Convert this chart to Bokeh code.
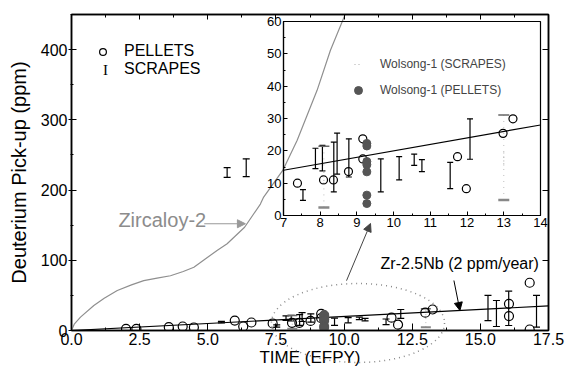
import numpy as np
from bokeh.plotting import figure
from bokeh.models import (ColumnDataSource, Range1d, LinearAxis, SingleIntervalTicker,
                          NumeralTickFormatter, CustomJSTickFormatter, Whisker, TeeHead,
                          Arrow, NormalHead, Label, Legend, LegendItem)
from bokeh.embed import file_html
from bokeh.resources import INLINE

FONT = "Liberation Sans"

# ---------------- data ----------------
pellet_x = [2.0, 2.38, 3.57, 4.08, 4.49, 5.99, 6.3, 6.6, 7.38, 8.09, 8.36, 8.77, 9.16, 9.16,
            11.74, 11.98, 12.98, 13.25, 16.05, 16.05, 16.81, 16.81]
pellet_y = [2.4, 2.4, 4.7, 5.7, 4.3, 14.2, 5.7, 11.4, 10.0, 11.0, 11.0, 13.6, 23.7, 17.5,
            18.2, 8.3, 25.4, 29.9, 38.0, 20.5, 68.0, 1.4]

scrape_x = [5.5, 5.71, 6.41, 7.53, 7.87, 8.06, 8.37, 8.46, 8.78, 9.65, 10.15, 10.56, 10.77,
            11.54, 12.08, 15.28, 15.59, 16.04, 17.06]
scrape_lo = [11.0, 218.0, 219.0, 4.7, 14.5, 13.8, 7.3, 12.8, 11.9, 7.3, 11.0, 15.5, 13.6,
             8.3, 17.4, 14.2, 5.7, 7.1, 4.8]
scrape_hi = [13.0, 232.0, 244.5, 8.0, 20.8, 21.7, 22.7, 25.5, 23.7, 17.5, 18.2, 19.0, 17.3,
             16.4, 29.9, 49.9, 42.7, 56.0, 49.9]

wolsong_pellet_x = [9.27, 9.27, 9.27, 9.27, 9.27, 9.27, 9.27]
wolsong_pellet_y = [22.3, 21.5, 16.7, 15.7, 13.5, 6.3, 3.7]

wolsong_scrape_x = [8.1, 13.0]
wolsong_scrape_lo = [2.5, 4.8]
wolsong_scrape_hi = [21.4, 31.1]

zircaloy_x = [0, 0.1, 0.33, 0.82, 1.2, 1.68, 2.2, 2.65, 3.14, 3.63, 4.1, 4.49, 4.73, 5.34,
              5.71, 6.35, 6.93, 7.05, 7.75, 8.28, 9.01, 9.5, 10.05]
zircaloy_y = [0, 9, 19, 35.6, 46, 57, 65, 71, 74.5, 78, 84, 90, 96.8, 114,
              123.5, 147, 180, 190, 228, 271, 342, 399, 451]

fit_slope = 2.0          # ppm / EFPY
main_fit_x = [0.0, 17.5]
inset_fit_x = [7.0, 14.0]

# dotted ellipse marking the zoomed region (main data units)
ell_cx, ell_cy, ell_w, ell_h = 10.51, 10.7, 6.35, 112.5

# ---------------- layout constants ----------------
W, H = 568, 370
ML, MR, MT, MB = 71, 20, 14, 40
XR = (0.0, 17.5)
YR = (0.0, 450.0)
INSET_LEFT, INSET_TOP, INSET_W, INSET_H = 258, 8, 292, 229
IB_LEFT, IB_RIGHT, IB_TOP, IB_BOTTOM = 25, 10, 13, 22

# ---------------- main figure ----------------
p = figure(width=W, height=H, x_range=Range1d(*XR), y_range=Range1d(*YR),
           output_backend="svg", toolbar_location=None,
           min_border_left=ML, min_border_right=MR, min_border_top=MT, min_border_bottom=MB,
           x_axis_label="TIME (EFPY)", y_axis_label="Deuterium Pick-up (ppm)")
p.grid.visible = False
p.outline_line_color = "black"
p.outline_line_width = 1.5
p.background_fill_color = "white"
p.border_fill_color = "white"

xa = p.xaxis[0]
xa.ticker = SingleIntervalTicker(interval=2.5, num_minor_ticks=2)
xa.formatter = NumeralTickFormatter(format="0.0")
ya = p.yaxis[0]
ya.ticker = SingleIntervalTicker(interval=100, num_minor_ticks=2)

for ax in (xa, ya):
    ax.axis_line_color = "black"
    ax.axis_line_width = 1.5
    ax.major_tick_line_color = "black"
    ax.minor_tick_line_color = "black"
    ax.major_label_text_font = FONT
    ax.major_label_text_font_size = "16px"
    ax.major_label_text_color = "black"
    ax.axis_label_text_font = FONT
    ax.axis_label_text_font_style = "normal"
    ax.axis_label_text_color = "black"

xa.major_tick_in = 7
xa.major_tick_out = 0
xa.minor_tick_in = 3
xa.minor_tick_out = 0
xa.major_label_standoff = 2
xa.axis_label_text_font_size = "17px"
xa.axis_label_standoff = 0

ya.major_tick_in = 5
ya.major_tick_out = 3
ya.minor_tick_in = 2
ya.minor_tick_out = 1
ya.major_label_standoff = 1
ya.axis_label_text_font_size = "20px"
ya.axis_label_standoff = 8

blank = CustomJSTickFormatter(code="return ''")
top_ax = LinearAxis(ticker=SingleIntervalTicker(interval=2.5, num_minor_ticks=2),
                    formatter=blank, major_tick_in=5, major_tick_out=0,
                    minor_tick_in=3, minor_tick_out=0, major_label_text_font_size="0px",
                    axis_line_color="black", axis_line_width=1.5)
right_ax = LinearAxis(ticker=SingleIntervalTicker(interval=100, num_minor_ticks=1),
                      formatter=blank, major_tick_in=6, major_tick_out=0,
                      minor_tick_in=0, minor_tick_out=0, major_label_text_font_size="0px",
                      axis_line_color="black", axis_line_width=1.5)
p.add_layout(top_ax, "above")
p.add_layout(right_ax, "right")

# Zircaloy-2 curve
p.line(zircaloy_x, zircaloy_y, line_color="#8f8f8f", line_width=1.2)
# Zr-2.5Nb fit line
p.line(main_fit_x, [fit_slope * v for v in main_fit_x], line_color="black", line_width=1.2)

# scrapes (error bars)
scr_src = ColumnDataSource(dict(x=scrape_x, lo=scrape_lo, hi=scrape_hi))
p.add_layout(Whisker(source=scr_src, base="x", lower="lo", upper="hi", dimension="height",
                     line_color="black", line_width=1.2,
                     upper_head=TeeHead(size=7, line_color="black", line_width=1.2),
                     lower_head=TeeHead(size=7, line_color="black", line_width=1.2)))
ws_src = ColumnDataSource(dict(x=wolsong_scrape_x, lo=wolsong_scrape_lo, hi=wolsong_scrape_hi))
p.add_layout(Whisker(source=ws_src, base="x", lower="lo", upper="hi", dimension="height",
                     line_color="#bbbbbb", line_width=1, line_dash="1 3",
                     upper_head=TeeHead(size=10, line_color="#666666", line_width=1.5),
                     lower_head=TeeHead(size=10, line_color="#888888", line_width=2)))

# pellets
r_pel = p.scatter(pellet_x, pellet_y, marker="circle", size=9, fill_color="white",
                  fill_alpha=0, line_color="black", line_width=1.2)
p.scatter(wolsong_pellet_x, wolsong_pellet_y, marker="circle", size=9,
          fill_color="#555555", line_color="#555555")

# arrows and labels
p.add_layout(Arrow(x_start=4.87, y_start=152, x_end=6.38, y_end=152,
                   line_color="#999999", line_width=1.2,
                   end=NormalHead(size=8, fill_color="#999999", line_color="#999999")))
p.add_layout(Label(x=1.72, y=156.7, text="Zircaloy-2", text_font=FONT,
                   text_font_size="20px", text_color="#8c8c8c", text_baseline="middle"))
p.add_layout(Arrow(x_start=14.03, y_start=71.2, x_end=14.25, y_end=28.5,
                   line_color="black", line_width=1,
                   end=NormalHead(size=8, fill_color="black", line_color="black")))
p.add_layout(Label(x=11.34, y=95.9, text="Zr-2.5Nb (2 ppm/year)", text_font=FONT,
                   text_font_size="16px", text_color="black", text_baseline="middle"))
p.add_layout(Arrow(x_start=10.09, y_start=71, x_end=10.97, y_end=152.4,
                   line_color="#444444", line_width=1,
                   end=NormalHead(size=8, fill_color="#444444", line_color="#444444")))

# legend (main)
r_scr_leg = p.scatter(x=[], y=[], marker="dash", line_alpha=0)
leg = Legend(items=[LegendItem(label="PELLETS", renderers=[r_pel]),
                    LegendItem(label="SCRAPES", renderers=[r_scr_leg])],
             location=(23, 252), glyph_width=17, glyph_height=17, label_height=17,
             spacing=0, padding=0, margin=0, label_standoff=13,
             label_text_font=FONT, label_text_font_size="16px", label_text_color="black",
             border_line_alpha=0, background_fill_alpha=0)
p.add_layout(leg)
# serif "I" symbol of the SCRAPES legend entry
p.add_layout(Label(x=1.25, y=370.5, text="I", text_font="Liberation Serif",
                   text_font_size="15px", text_color="black", text_align="center",
                   text_baseline="middle"))

# ---------------- transparent overlay (unclipped decoration) ----------------
sx = (W - ML - MR) / (XR[1] - XR[0])
sy = (H - MT - MB) / (YR[1] - YR[0])
ov = figure(width=W, height=H,
            x_range=Range1d(XR[0] - ML / sx, XR[1] + MR / sx),
            y_range=Range1d(YR[0] - MB / sy, YR[1] + MT / sy),
            output_backend="svg", toolbar_location=None, min_border=0,
            x_axis_location=None, y_axis_location=None)
ov.grid.visible = False
ov.outline_line_color = None
ov.background_fill_alpha = 0
ov.border_fill_alpha = 0
ov.ellipse(x=[ell_cx], y=[ell_cy], width=[ell_w], height=[ell_h], fill_alpha=0,
           line_color="#8a8a8a", line_width=1.5, line_dash="1 4")
ov.styles = {"position": "absolute", "left": "0px", "top": "0px",
             "width": f"{W}px", "height": f"{H}px"}

# ---------------- inset figure ----------------
q = figure(width=INSET_W, height=INSET_H, x_range=Range1d(7, 14), y_range=Range1d(0, 60),
           output_backend="svg", toolbar_location=None,
           min_border_left=IB_LEFT, min_border_right=IB_RIGHT,
           min_border_top=IB_TOP, min_border_bottom=IB_BOTTOM)
q.grid.visible = False
q.background_fill_alpha = 0
q.border_fill_alpha = 0
q.outline_line_color = "black"
q.outline_line_width = 1.2

qx = q.xaxis[0]
qy = q.yaxis[0]
qx.ticker = SingleIntervalTicker(interval=1, num_minor_ticks=2)
qy.ticker = SingleIntervalTicker(interval=10, num_minor_ticks=2)
for ax in (qx, qy):
    ax.axis_line_color = "black"
    ax.axis_line_width = 1.2
    ax.major_tick_in = 4
    ax.major_tick_out = 0
    ax.minor_tick_in = 2
    ax.minor_tick_out = 0
    ax.major_tick_line_color = "black"
    ax.minor_tick_line_color = "black"
    ax.major_label_text_font = FONT
    ax.major_label_text_font_size = "13px"
    ax.major_label_text_color = "black"
    ax.major_label_standoff = 2

q.line(inset_fit_x, [fit_slope * v for v in inset_fit_x], line_color="black", line_width=1.2)
iscr_src = ColumnDataSource(dict(x=scrape_x, lo=scrape_lo, hi=scrape_hi))
q.add_layout(Whisker(source=iscr_src, base="x", lower="lo", upper="hi", dimension="height",
                     line_color="black", line_width=1.2,
                     upper_head=TeeHead(size=6, line_color="black", line_width=1.2),
                     lower_head=TeeHead(size=6, line_color="black", line_width=1.2)))
iws_src = ColumnDataSource(dict(x=wolsong_scrape_x, lo=wolsong_scrape_lo, hi=wolsong_scrape_hi))
q.add_layout(Whisker(source=iws_src, base="x", lower="lo", upper="hi", dimension="height",
                     line_color="#bbbbbb", line_width=1, line_dash="1 5",
                     upper_head=TeeHead(size=11, line_color="#666666", line_width=1.5),
                     lower_head=TeeHead(size=11, line_color="#888888", line_width=2.5)))
q.scatter(pellet_x, pellet_y, marker="circle", size=8, fill_alpha=0,
          line_color="black", line_width=1.2)
r_wp = q.scatter(wolsong_pellet_x, wolsong_pellet_y, marker="circle", size=8,
                 fill_color="#555555", line_color="#555555")
# vertical dotted marks lying on the Wolsong scrape stems (also serve as the legend glyph)
ws_mid = [(a + b) / 2 for a, b in zip(wolsong_scrape_lo, wolsong_scrape_hi)]
r_ws_leg = q.scatter(x=wolsong_scrape_x, y=ws_mid, marker="dash", angle=np.pi / 2,
                     size=16, line_color="#aaaaaa", line_width=1, line_dash="1 3")
ileg = Legend(items=[LegendItem(label="Wolsong-1 (SCRAPES)", renderers=[r_ws_leg]),
                     LegendItem(label="Wolsong-1 (PELLETS)", renderers=[r_wp])],
              location=(65, 115), glyph_width=20, glyph_height=20, label_height=20,
              spacing=6, padding=0, margin=0, label_standoff=12,
              label_text_font=FONT, label_text_font_size="12px", label_text_color="#444444",
              border_line_alpha=0, background_fill_alpha=0)
q.add_layout(ileg)
q.styles = {"position": "absolute", "left": f"{INSET_LEFT}px", "top": f"{INSET_TOP}px",
            "width": f"{INSET_W}px", "height": f"{INSET_H}px"}

open("out.html", "w").write(file_html([p, ov, q], INLINE))
